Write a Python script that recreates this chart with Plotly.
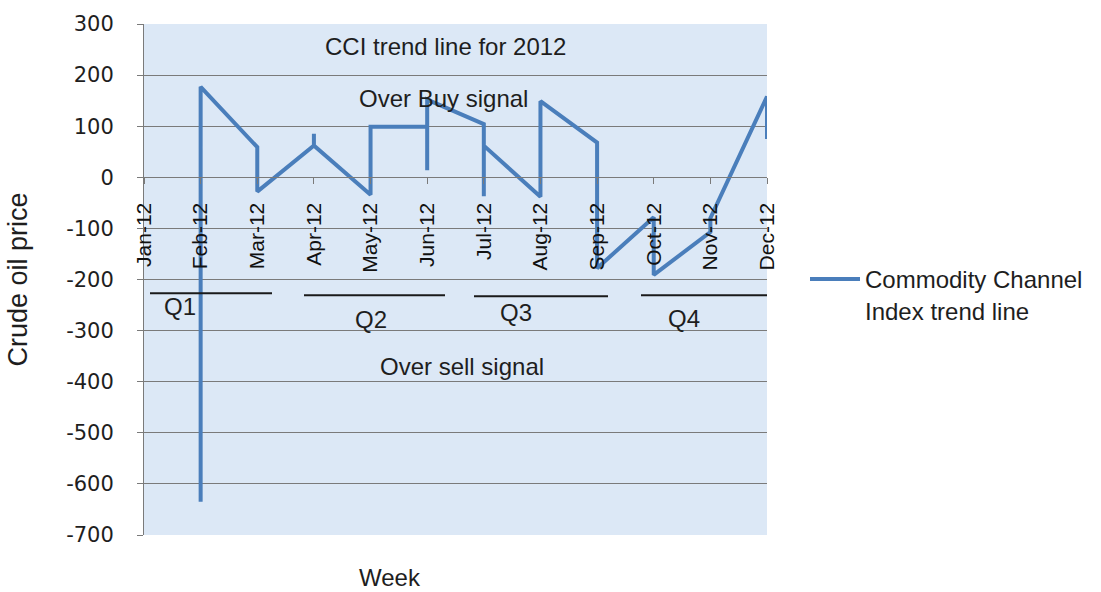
import plotly.graph_objects as go

# Month categories on the date axis
months = ["Jan-12", "Feb-12", "Mar-12", "Apr-12", "May-12", "Jun-12",
          "Jul-12", "Aug-12", "Sep-12", "Oct-12", "Nov-12", "Dec-12"]

# Weekly CCI readings, each tagged with the month it falls in
week_month = ["Feb-12", "Feb-12",
              "Mar-12", "Mar-12",
              "Apr-12", "Apr-12", "Apr-12",
              "May-12", "May-12",
              "Jun-12", "Jun-12", "Jun-12",
              "Jul-12", "Jul-12", "Jul-12",
              "Aug-12", "Aug-12",
              "Sep-12", "Sep-12",
              "Oct-12", "Oct-12",
              "Nov-12", "Nov-12",
              "Dec-12", "Dec-12"]
cci = [-635, 177,
       59, -28,
       62, 85, 62,
       -34, 99,
       99, 14, 152,
       104, -37, 62,
       -38, 149,
       68, -178,
       -78, -191,
       -107, -80,
       158, 75]

y_ticks = [-700, -600, -500, -400, -300, -200, -100, 0, 100, 200, 300]
y_tick_labels = ["-700", "-600", "-500", "-400", "-300", "-200", "-100",
                 "0", "100", "200", "300"]
quarter_labels = ["Q1", "Q2", "Q3", "Q4"]

FONT = "Liberation Sans, Arial, sans-serif"
TXT = "#1e1e1e"
GRID = "#7a7a7a"
LINE_BLUE = "#4a7ebb"

fig = go.Figure()
fig.add_trace(go.Scatter(
    x=week_month, y=cci, mode="lines",
    name="Commodity Channel<br>Index trend line",
    line=dict(color=LINE_BLUE, width=4),
    xaxis="x", yaxis="y",
))

W, H = 1101, 592
L, R, T, B = 144, 1101 - 767, 15, 57
pw = W - L - R
ph = H - T - B


def px_x(p):
    return (p - L) / pw


def px_y(p):
    return 1 - (p - T) / ph


annotations = [
    dict(text="CCI trend line for 2012", x=px_x(445), y=px_y(38)),
    dict(text="Over Buy signal", x=px_x(443), y=px_y(91)),
    dict(text="Over sell signal", x=px_x(462), y=px_y(364)),
    dict(text="Week", x=px_x(390), y=px_y(578)),
]
q_label_pos = [(180, 302), (371, 316), (516, 309), (684, 315)]
for lab, (qx, qy) in zip(quarter_labels, q_label_pos):
    annotations.append(dict(text=lab, x=px_x(qx), y=px_y(qy)))
for a in annotations:
    a.update(xref="paper", yref="paper", showarrow=False,
             xanchor="center", yanchor="middle",
             font=dict(family=FONT, size=24, color=TXT))

# Bracket lines above each quarter label
q_spans = [(150, 272, 289), (304, 445, 291), (474, 608, 292), (641, 767, 291)]
shapes = []
for x0, x1, yy in q_spans:
    shapes.append(dict(type="line", xref="paper", yref="paper",
                       x0=px_x(x0), x1=px_x(x1), y0=px_y(yy), y1=px_y(yy),
                       line=dict(color="#1a1a1a", width=2)))

fig.update_layout(
    width=W, height=H,
    margin=dict(l=L, r=R, t=T, b=B, pad=0),
    paper_bgcolor="white",
    plot_bgcolor="#dce8f6",
    font=dict(family=FONT, color=TXT),
    showlegend=True,
    legend=dict(x=1.0 + (805 - 767) / pw, y=px_y(252), xanchor="left", yanchor="top",
                font=dict(family=FONT, size=24, color=TXT),
                bgcolor="rgba(0,0,0,0)", valign="top", itemwidth=50),
    xaxis=dict(
        type="category", categoryorder="array", categoryarray=months,
        range=[0, 11], anchor="free", position=0.7,
        showline=True, linecolor=GRID, linewidth=1,
        ticks="outside", ticklen=6, tickcolor=GRID,
        tickangle=-90, ticklabelstandoff=10,
        tickfont=dict(family=FONT, size=21, color="#111111"),
        showgrid=False, zeroline=False,
    ),
    yaxis=dict(
        range=[-700, 300], tickvals=y_ticks, ticktext=y_tick_labels,
        showgrid=True, gridcolor=GRID, gridwidth=1,
        zeroline=False,
        showline=True, linecolor=GRID, linewidth=1,
        ticks="outside", ticklen=6, tickcolor=GRID,
        ticklabelstandoff=19,
        tickfont=dict(family="DejaVu Sans, sans-serif", size=21, color=TXT),
        title=dict(text="Crude oil price", standoff=30,
                   font=dict(family=FONT, size=27, color=TXT)),
    ),
    annotations=annotations,
    shapes=shapes,
)

fig.write_html("out.html")
